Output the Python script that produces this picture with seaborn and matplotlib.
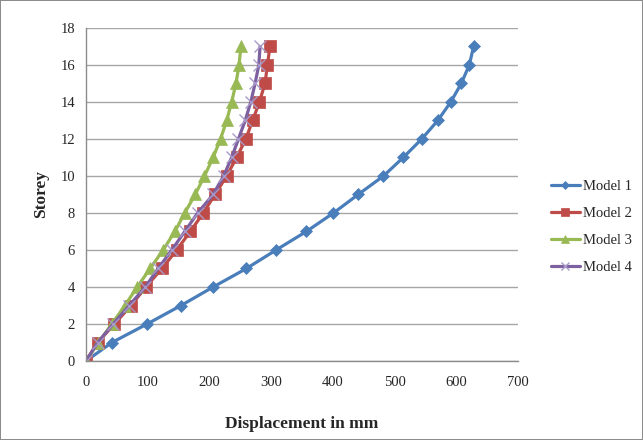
import matplotlib
matplotlib.use("Agg")
import matplotlib.pyplot as plt
import numpy as np
import pandas as pd
import seaborn as sns

storey = list(range(18))
model_1 = [0, 42, 99, 154, 206, 260, 308, 357, 401, 441, 482, 514, 544, 570, 591, 608, 621, 628]
model_2 = [0, 19, 46, 73, 97, 123, 147, 169, 190, 209, 228, 244, 259, 270, 281, 290, 294, 298]
model_3 = [0, 20, 42, 63, 83, 104, 125, 144, 160, 177, 192, 206, 218, 228, 236, 243, 248, 251]
model_4 = [0, 19, 44, 70, 96, 117, 139, 160, 181, 206, 223, 236, 247, 258, 267, 274, 280, 282]

names = ["Model 1", "Model 2", "Model 3", "Model 4"]
series = [model_1, model_2, model_3, model_4]
colors = ["#4a7ebb", "#be4b48", "#98b954", "#7d60a0"]
markers = ["D", "s", "^", "x"]
msizes = [6, 9, 8, 8]

sns.set_style("white")
plt.rcParams["font.family"] = ["Liberation Serif", "DejaVu Serif"]

fig = plt.figure(figsize=(6.43, 4.40), dpi=100)
fig.patch.set_edgecolor("#8c8c8c")
fig.patch.set_linewidth(1.2)
ax = fig.add_axes([0.1337, 0.1795, 0.672, 0.757])

for name, vals, c, m, ms in zip(names, series, colors, markers, msizes):
    df = pd.DataFrame({"disp": vals, "storey": storey})
    mec = "#a899c8" if m == "x" else c
    sns.lineplot(data=df, x="disp", y="storey", ax=ax, sort=False, estimator=None,
                 color=c, linewidth=2.3, marker=m, markersize=ms,
                 markeredgecolor=mec, markerfacecolor=c, markeredgewidth=1 if m == "x" else 0.5,
                 label=name)

ax.set_xlim(0, 700)
ax.set_ylim(0, 18)
ax.set_xticks(np.arange(0, 701, 100))
ax.set_yticks(np.arange(0, 19, 2))
ax.grid(axis="y", color="#a6a6a6", linewidth=1)
ax.set_axisbelow(True)
for s in ["top", "right"]:
    ax.spines[s].set_visible(False)
for s in ["left", "bottom"]:
    ax.spines[s].set_color("#8c8c8c")
    ax.spines[s].set_linewidth(1)
ax.tick_params(axis="x", direction="out", length=5, color="#8c8c8c", labelsize=10.5, pad=6)
ax.tick_params(axis="y", length=0, labelsize=10.5, pad=8)
ax.set_xlabel("Displacement in mm", fontsize=12.5, fontweight="bold", labelpad=19)
ax.set_ylabel("Storey", fontsize=12.5, fontweight="bold", labelpad=8)

ax.legend(loc="center left", bbox_to_anchor=(0.845, 0.485), bbox_transform=fig.transFigure,
          frameon=False, fontsize=10.5, handlelength=2.0, handletextpad=0.2, labelspacing=0.95,
          borderpad=0, markerscale=0.7)

fig.savefig("out.png", dpi=100, edgecolor=fig.get_edgecolor())
